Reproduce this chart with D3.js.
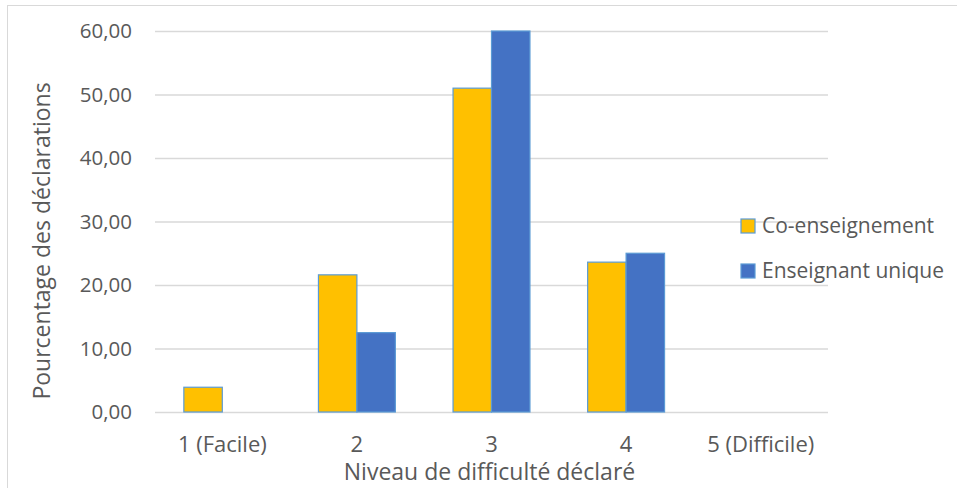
<!DOCTYPE html>
<html>
<head>
<meta charset="utf-8">
<script src="https://cdn.jsdelivr.net/npm/d3@7"></script>
<style>
  body { margin: 0; background: #fff; }
  text { font-family: "Open Sans", sans-serif; fill: #595959; }
</style>
</head>
<body>
<script>
// niveaux de difficulté
var categories = ['1 (Facile)', '2', '3', '4', '5 (Difficile)']
var series = ['Co-enseignement', 'Enseignant unique']
var coEns = [3.9, 21.6, 51.0, 23.6, 0]
var ensUnique = [0, 12.5, 60.0, 25.0, 0]
var yTicks = [0, 10, 20, 30, 40, 50, 60]
var colors = ['#FFC000', '#4472C4']

var W = 957, H = 488
var plot = { left: 155, right: 828, top: 31, bottom: 412 }

var svg = d3.select('body').append('svg')
    .attr('width', W)
    .attr('height', H)

// cadre du graphique
svg.append('rect')
    .attr('x', 7.5).attr('y', 5.5)
    .attr('width', W).attr('height', H)
    .attr('fill', 'none')
    .attr('stroke', '#d9d9d9')

var x0 = d3.scaleBand()
    .domain(categories)
    .range([plot.left, plot.right])

// gap width 150% -> 2 bars + 1.5 bar
var groupW = x0.bandwidth() * 2 / 3.5
var x1 = d3.scaleBand()
    .domain(series)
    .range([0, groupW])

var y = d3.scaleLinear()
    .domain([0, 60])
    .range([plot.bottom, plot.top])

// grid
var yAxis = d3.axisLeft(y)
    .tickValues(yTicks)
    .tickSize(-(plot.right - plot.left))
    .tickPadding(23)
    .tickFormat(function(d) { return d3.format('.2f')(d).replace('.', ',') })

var gy = svg.append('g')
    .attr('transform', 'translate(' + plot.left + ',0)')
    .call(yAxis)
gy.select('.domain').remove()
gy.selectAll('.tick line').attr('stroke', '#d9d9d9').attr('stroke-width', 1.3)
gy.selectAll('.tick text')
    .style('font-size', '20.5px')
    .attr('fill', '#595959')

// bars
var rows = categories.map(function(c, i) {
  return { cat: c, values: [coEns[i], ensUnique[i]] }
})

var groups = svg.append('g').selectAll('g')
    .data(rows)
    .enter().append('g')
    .attr('transform', function(d) {
      return 'translate(' + (x0(d.cat) + (x0.bandwidth() - groupW) / 2) + ',0)'
    })

groups.selectAll('rect')
    .data(function(d) {
      return d.values.map(function(v, j) { return { s: series[j], v: v, j: j } })
    })
    .enter().filter(function(d) { return d.v > 0 }).append('rect')
    .attr('x', function(d) { return x1(d.s) })
    .attr('y', function(d) { return y(d.v) })
    .attr('width', x1.bandwidth())
    .attr('height', function(d) { return y(0) - y(d.v) })
    .attr('fill', function(d) { return colors[d.j] })
    .attr('stroke', '#5B9BD5')
    .attr('stroke-width', 1.2)

// x axis labels
var xAxis = d3.axisBottom(x0).tickSize(0).tickPadding(24)
var gx = svg.append('g')
    .attr('transform', 'translate(0,' + plot.bottom + ')')
    .call(xAxis)
gx.select('.domain').remove()
gx.selectAll('.tick text')
    .style('font-size', '22px')
    .attr('fill', '#595959')

// axis titles
svg.append('text')
    .attr('x', (plot.left + plot.right) / 2 - 2)
    .attr('y', 480)
    .attr('text-anchor', 'middle')
    .style('font-size', '23px')
    .text('Niveau de difficulté déclaré')

svg.append('text')
    .attr('transform', 'translate(50,241) rotate(-90)')
    .attr('text-anchor', 'middle')
    .style('font-size', '23px')
    .text('Pourcentage des déclarations')

// legend
var legend = svg.append('g').selectAll('g')
    .data(series)
    .enter().append('g')
    .attr('transform', function(d, i) { return 'translate(741,' + (219 + i * 45) + ')' })

legend.append('rect')
    .attr('width', 14).attr('height', 14)
    .attr('fill', function(d, i) { return colors[i] })
    .attr('stroke', '#5B9BD5')
    .attr('stroke-width', 1.2)

legend.append('text')
    .attr('x', 21)
    .attr('y', 14)
    .style('font-size', '21px')
    .text(function(d) { return d })
</script>
</body>
</html>
